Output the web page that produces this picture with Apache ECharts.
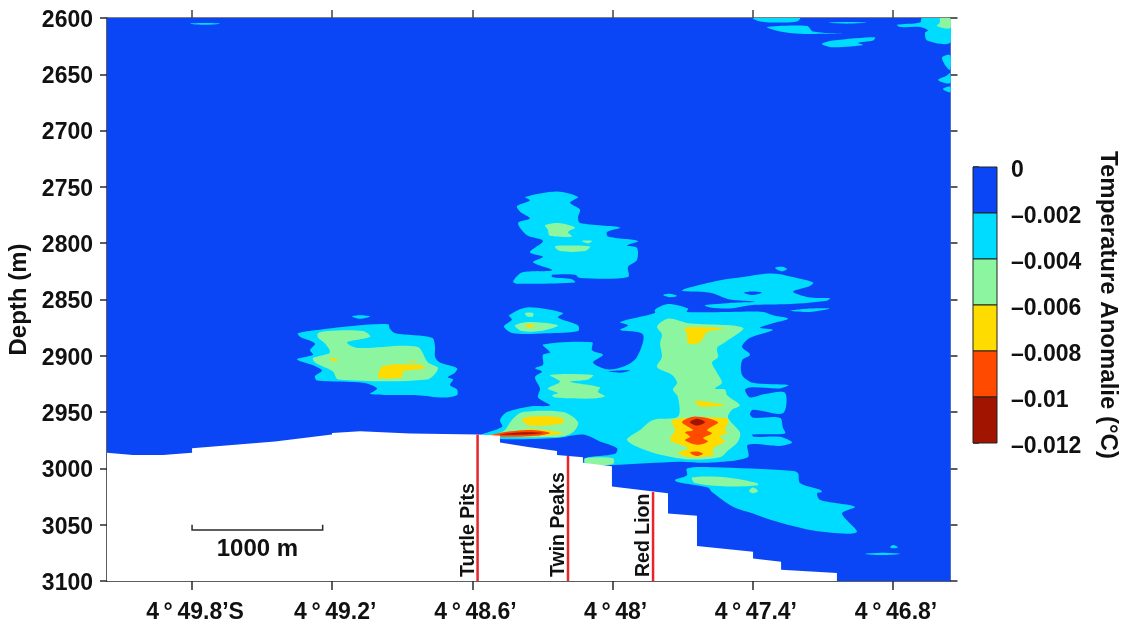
<!DOCTYPE html>
<html>
<head>
<meta charset="utf-8">
<style>html,body{margin:0;padding:0;background:#fff}#c{width:1128px;height:626px}</style>
<script src="https://cdn.jsdelivr.net/npm/echarts@6/dist/echarts.min.js"></script>
</head>
<body>
<div id="c"></div>
<script>
// ---- axes (longitude in arc-minutes past 4 deg S, depth in metres) ----
const lonMin = 46.554, lonMax = 50.164;
const lonTicks = [49.8, 49.2, 48.6, 48.0, 47.4, 46.8];
const lonLabels = ["4\u2009°\u200949.8’S", "4\u2009°\u200949.2’", "4\u2009°\u200948.6’", "4\u2009°\u200948’", "4\u2009°\u200947.4’", "4\u2009°\u200946.8’"];
const depthTicks = [2600, 2650, 2700, 2750, 2800, 2850, 2900, 2950, 3000, 3050, 3100];

// ---- colour scale ----
const scaleTicks = [0, -0.002, -0.004, -0.006, -0.008, -0.01, -0.012];
const scaleLabels = ["0", "–0.002", "–0.004", "–0.006", "–0.008", "–0.01", "–0.012"];
const scaleColors = ["#0a46f5", "#00dcff", "#8cf5a0", "#ffdc00", "#ff4a00", "#a01400"];

// ---- contour regions: lists of [longitude, depth] ----
const band0 = [[[46.554,2600],[50.164,2600],[50.164,3100],[46.554,3100]]];

const band1 = [
 [[47.399,2600],[47.198,2600],[47.211,2603],[47.296,2604],[47.369,2603]],
 [[47.339,2608],[47.168,2607],[47.142,2612],[47.014,2614],[47.082,2614],[47.198,2614],[47.284,2612]],
 [[47.078,2604],[46.997,2603.5],[46.911,2604],[46.997,2605]],
 [[47.104,2623],[47.057,2620],[46.877,2617],[46.886,2620],[46.950,2622],[46.928,2624],[47.057,2626]],
 [[46.783,2606],[46.684,2604],[46.676,2600],[46.556,2600],[46.556,2622],[46.654,2620],[46.663,2613],[46.650,2611],[46.684,2608],[46.770,2608]],
 [[46.590,2635],[46.556,2633],[46.556,2646],[46.577,2642]],
 [[46.607,2655],[46.569,2651],[46.556,2649],[46.556,2658]],
 [[46.586,2663],[46.556,2661],[46.556,2666]],
 [[49.809,2605],[49.745,2604.5],[49.680,2605],[49.745,2606]],
 [[48.375,2759],[48.238,2754],[48.148,2759],[48.182,2764],[48.140,2770],[48.148,2777],[48.140,2782],[47.968,2786],[48.024,2790],[48.020,2794],[47.891,2798],[47.938,2802],[47.896,2804],[47.896,2815],[47.934,2821],[47.934,2830],[48.140,2831],[48.161,2828],[48.259,2828],[48.259,2830],[48.174,2832],[48.161,2835],[48.409,2836],[48.426,2834],[48.388,2826],[48.259,2824],[48.341,2817],[48.298,2812],[48.354,2808],[48.298,2798],[48.366,2793],[48.405,2782],[48.354,2778],[48.396,2772],[48.409,2767],[48.354,2762]],
 [[49.347,2880],[49.265,2877],[49.094,2873],[48.961,2872],[48.953,2876],[48.931,2880],[48.773,2884],[48.760,2892],[48.760,2901],[48.739,2906],[48.666,2911],[48.675,2915],[48.705,2919],[48.683,2921],[48.696,2926],[48.666,2930],[48.666,2935],[48.726,2937],[48.837,2935],[49.038,2934],[49.008,2929],[49.068,2924],[49.265,2922],[49.274,2918],[49.244,2913],[49.287,2908],[49.351,2903],[49.282,2899],[49.295,2895],[49.274,2889],[49.338,2883]],
 [[49.115,2865],[49.081,2864],[49.038,2865],[49.081,2867]],
 [[48.465,2874],[48.431,2868],[48.443,2864],[48.366,2857],[48.212,2862],[48.234,2866],[48.148,2873],[48.148,2878],[48.281,2880],[48.426,2880]],
 [[48.298,2890],[48.088,2888],[48.088,2895],[48.041,2899],[48.084,2906],[48.024,2912],[47.947,2909],[47.896,2901],[47.870,2881],[47.968,2877],[47.934,2873],[47.968,2870],[47.819,2862],[47.819,2859],[47.763,2854],[47.677,2858],[47.682,2861],[47.498,2861],[47.356,2861],[47.314,2864],[47.249,2867],[47.314,2871],[47.369,2875],[47.314,2877],[47.412,2884],[47.446,2892],[47.412,2899],[47.446,2904],[47.446,2917],[47.399,2924],[47.249,2926],[47.284,2929],[47.399,2928],[47.433,2930],[47.412,2937],[47.348,2934],[47.262,2933],[47.271,2951],[47.399,2948],[47.412,2952],[47.399,2955],[47.284,2955],[47.271,2964],[47.262,2969],[47.403,2970],[47.395,2972],[47.284,2972],[47.232,2977],[47.284,2980],[47.421,2979],[47.421,2990],[47.596,2995],[47.712,2994],[48.003,2997],[48.118,2997],[48.118,2991],[47.990,2987],[47.981,2982],[48.054,2976],[48.127,2970],[48.238,2973],[48.482,2974],[48.568,2971],[48.473,2963],[48.482,2957],[48.452,2950],[48.354,2945],[48.268,2944],[48.319,2937],[48.311,2929],[48.332,2919],[48.302,2914],[48.332,2911],[48.298,2908],[48.298,2899],[48.268,2897]],
 [[47.703,2842],[47.540,2833],[47.442,2830],[47.314,2827],[47.211,2831],[47.142,2835],[47.155,2838],[47.228,2843],[47.164,2848],[47.070,2849],[47.082,2851],[47.241,2854],[47.412,2855],[47.498,2858],[47.583,2857],[47.605,2855],[47.498,2853],[47.391,2852],[47.498,2850],[47.583,2844]],
 [[47.305,2822],[47.275,2821],[47.254,2823],[47.275,2825]],
 [[47.241,2860],[47.155,2858],[47.070,2858],[47.155,2861]],
 [[47.784,2846],[47.754,2845],[47.724,2847],[47.754,2848]],
 [[47.733,3010],[47.682,3006],[47.682,3000],[47.570,2999],[47.241,3002],[47.207,3004],[47.198,3013],[47.112,3019],[47.104,3021],[47.125,3022],[47.112,3028],[46.963,3034],[47.018,3040],[46.954,3056],[46.997,3058],[47.147,3055],[47.318,3046],[47.399,3040],[47.485,3034],[47.575,3021],[47.592,3017],[47.724,3012]],
 [[46.813,3070],[46.800,3068],[46.779,3070],[46.800,3071]],
 [[46.920,3076],[46.843,3075],[46.770,3076],[46.847,3077]]
];
const band1Gaps = [
 [[48.020,2914],[47.977,2913],[47.926,2913],[47.968,2915]],
 [[47.438,2844],[47.403,2843],[47.361,2844],[47.403,2846]]
];
const band2 = [
 [[46.599,2600],[46.556,2600],[46.556,2609],[46.612,2607],[46.599,2604]],
 [[48.289,2784],[48.234,2782],[48.161,2786],[48.191,2790],[48.174,2794],[48.247,2794],[48.272,2793],[48.277,2788]],
 [[48.247,2803],[48.212,2802],[48.097,2803],[48.118,2807],[48.225,2807]],
 [[48.131,2798],[48.088,2798],[48.105,2800]],
 [[49.261,2880],[49.222,2878],[49.068,2878],[49.038,2883],[49.137,2888],[49.094,2893],[48.837,2892],[48.790,2906],[48.747,2911],[48.794,2921],[49.175,2921],[49.197,2914],[49.274,2906],[49.282,2902],[49.210,2897],[49.231,2889],[49.261,2884]],
 [[48.418,2873],[48.354,2870],[48.234,2873],[48.311,2878],[48.388,2878]],
 [[48.375,2862],[48.341,2862],[48.341,2865],[48.366,2865]],
 [[47.810,2874],[47.763,2867],[47.677,2871],[47.442,2875],[47.519,2888],[47.553,2893],[47.549,2901],[47.575,2906],[47.553,2915],[47.532,2924],[47.562,2929],[47.519,2930],[47.510,2935],[47.455,2944],[47.489,2948],[47.506,2955],[47.455,2968],[47.463,2976],[47.506,2984],[47.540,2990],[47.669,2992],[47.827,2986],[47.938,2975],[47.883,2966],[47.827,2957],[47.720,2954],[47.720,2937],[47.742,2930],[47.724,2924],[47.746,2917],[47.810,2910],[47.789,2901],[47.797,2889],[47.789,2881]],
 [[48.118,2991],[47.998,2991],[47.998,2996],[48.097,2997],[48.118,2995]],
 [[48.268,2917],[48.084,2917],[48.105,2921],[48.182,2923],[48.054,2928],[48.063,2932],[48.033,2936],[48.084,2938],[48.247,2937],[48.259,2935],[48.234,2933],[48.277,2929],[48.225,2923]],
 [[48.431,2957],[48.384,2950],[48.212,2950],[48.148,2959],[48.170,2968],[48.225,2972],[48.503,2971],[48.461,2966]],
 [[47.660,3008],[47.510,3008],[47.382,3013],[47.378,3015],[47.510,3016],[47.647,3013]],
 [[47.416,3020],[47.399,3017],[47.378,3020],[47.399,3022]]
];
const band3 = [
 [[48.983,2909],[48.824,2908],[48.803,2911],[48.897,2914],[48.901,2919],[48.996,2920],[49.004,2917]],
 [[49.210,2902],[49.175,2903],[49.197,2905]],
 [[48.876,2905],[48.837,2905],[48.859,2906]],
 [[48.375,2873],[48.354,2872],[48.332,2873],[48.354,2875]],
 [[48.388,2957],[48.354,2954],[48.217,2955],[48.212,2960],[48.354,2962]],
 [[48.538,2971],[48.409,2967],[48.354,2965],[48.217,2968],[48.234,2970],[48.384,2972]],
 [[47.690,2875],[47.519,2876],[47.596,2879],[47.626,2888],[47.677,2889],[47.682,2881]],
 [[47.647,2940],[47.519,2944],[47.626,2945]],
 [[47.746,2957],[47.506,2956],[47.519,2966],[47.506,2968],[47.540,2972],[47.519,2976],[47.570,2982],[47.570,2988],[47.669,2990],[47.720,2986],[47.677,2982],[47.754,2975],[47.733,2966]]
];
const band4 = [
 [[48.525,2971],[48.482,2968.5],[48.354,2966],[48.268,2968.5],[48.324,2971],[48.473,2972]],
 [[47.703,2959],[47.647,2954],[47.549,2959],[47.596,2966],[47.575,2969],[47.613,2973],[47.592,2976],[47.639,2979],[47.690,2975],[47.669,2972],[47.690,2968],[47.656,2966]],
 [[47.669,2986],[47.639,2985],[47.613,2987],[47.639,2989]]
];
const band5 = [
 [[48.482,2970],[48.384,2968],[48.298,2968.5],[48.384,2970]],
 [[47.669,2959],[47.639,2956],[47.605,2959],[47.639,2962]]
];

// ---- sea floor ----
const seafloor = [[[50.164,2986],[50.053,2988],[49.924,2988],[49.80,2986],[49.80,2982],[49.445,2976],[49.201,2970],[49.201,2968.5],[49.081,2967],[48.867,2969],[48.576,2970],[48.482,2971],[48.482,2977],[48.362,2981],[48.238,2984.5],[48.238,2988],[48.127,2990],[48.127,2995],[48.003,2998],[48.003,3016],[47.763,3022],[47.763,3040],[47.639,3042],[47.639,3069],[47.399,3074],[47.399,3080],[47.279,3083],[47.279,3090],[47.040,3093],[47.040,3100],[50.164,3100]]];

// ---- vent sites and scale bar ----
const ventNames = ["Turtle Pits", "Twin Peaks", "Red Lion"];
const ventLons = [48.578, 48.191, 47.827];
const ventTops = [2970, 2989, 3021];
const barEnds = [49.8, 49.241];
const barDepths = [3050, 3054.6];
const barText = "1000 m";
const barTextPos = [49.52, 3071.5];

const FONT = "Liberation Sans";
const INK = "#111";
const AXIS = "#2a2a2a";
const textBase = {fontFamily: FONT, fontWeight: "bold", fontSize: 23, color: INK};
const nameBase = {fontFamily: FONT, fontWeight: "bold", fontSize: 24, color: INK};

function regions(polys, color, smooth) {
  return {
    type: "custom", xAxisIndex: 0, yAxisIndex: 0, clip: true, silent: true,
    data: polys.map(p => p[0]),
    renderItem: (params, api) => ({
      type: "polygon",
      shape: {points: polys[params.dataIndex].map(c => api.coord(c)), smooth: smooth || 0},
      style: {fill: color}
    })
  };
}

const ventSeries = {
  type: "custom", xAxisIndex: 0, yAxisIndex: 0, silent: true, clip: false,
  data: ventLons.map((lon, i) => [lon, ventTops[i]]),
  renderItem: (params, api) => {
    const i = params.dataIndex;
    const a = api.coord([ventLons[i], ventTops[i]]);
    const b = api.coord([ventLons[i], 3100]);
    return {type: "group", children: [
      {type: "line", shape: {x1: a[0], y1: a[1], x2: b[0], y2: b[1]}, style: {stroke: "#e8262a", lineWidth: 2.5}},
      {type: "text", x: b[0] - 9, y: b[1] - 4, rotation: Math.PI / 2,
       style: {text: ventNames[i], fontFamily: FONT, fontWeight: "bold", fontSize: 19.5, fill: INK, align: "left", verticalAlign: "middle"}}
    ]};
  }
};

const barSeries = {
  type: "custom", xAxisIndex: 0, yAxisIndex: 0, silent: true, clip: false,
  data: [[barEnds[0], barDepths[1]]],
  renderItem: (params, api) => {
    const p0 = api.coord([barEnds[0], barDepths[0]]);
    const p1 = api.coord([barEnds[0], barDepths[1]]);
    const p2 = api.coord([barEnds[1], barDepths[1]]);
    const p3 = api.coord([barEnds[1], barDepths[0]]);
    const t = api.coord(barTextPos);
    return {type: "group", children: [
      {type: "polyline", shape: {points: [p0, p1, p2, p3]}, style: {stroke: AXIS, lineWidth: 1.5, fill: "none"}},
      {type: "text", x: t[0], y: t[1], style: {text: barText, fontFamily: FONT, fontWeight: "bold", fontSize: 24, fill: INK, align: "center", verticalAlign: "middle"}}
    ]};
  }
};

const scaleSeries = {
  type: "custom", xAxisIndex: 2, yAxisIndex: 2, silent: true, clip: false,
  data: scaleColors.map((c, i) => [0, scaleTicks[i]]),
  renderItem: (params, api) => {
    const i = params.dataIndex;
    const a = api.coord([0, scaleTicks[i]]);
    const b = api.coord([1, scaleTicks[i + 1]]);
    return {type: "rect", shape: {x: a[0], y: a[1], width: b[0] - a[0], height: b[1] - a[1]},
      style: {fill: scaleColors[i], stroke: "#222", lineWidth: 1}};
  }
};

const hiddenParts = {axisLabel: {show: false}, splitLine: {show: false}};
const chart = echarts.init(document.getElementById("c"), null, {renderer: "canvas"});
chart.setOption({
  animation: false,
  backgroundColor: "#fff",
  grid: [
    {left: 107, top: 18, width: 843.5, height: 563, outerBoundsMode: "none"},
    {left: 973, top: 167, width: 24, height: 276, outerBoundsMode: "none"}
  ],
  xAxis: [
    {type: "value", gridIndex: 0, inverse: true, min: lonMin, max: lonMax, position: "bottom",
     axisLine: {show: true, lineStyle: {color: AXIS, width: 1.5}},
     axisTick: {show: true, length: 9, customValues: lonTicks, lineStyle: {color: AXIS, width: 1.5}},
     axisLabel: {show: true, customValues: lonTicks, margin: 20, ...textBase, padding: [0, 0, 0, 6], showMinLabel: true, showMaxLabel: true,
       formatter: v => lonLabels[lonTicks.findIndex(t => Math.abs(t - v) < 1e-6)] || ""},
     splitLine: {show: false}},
    {type: "value", gridIndex: 0, inverse: true, min: lonMin, max: lonMax, position: "top",
     axisLine: {show: true, lineStyle: {color: "#555", width: 1.5}},
     axisTick: {show: true, length: 8, customValues: lonTicks, lineStyle: {color: "#444", width: 1.5}},
     ...hiddenParts},
    {type: "value", gridIndex: 1, min: 0, max: 1, show: false}
  ],
  yAxis: [
    {type: "value", gridIndex: 0, inverse: true, min: 2600, max: 3100, interval: 50, position: "left",
     name: "Depth (m)", nameLocation: "middle", nameGap: 71, nameRotate: 90, nameTextStyle: {...nameBase},
     axisLine: {show: true, lineStyle: {color: AXIS, width: 1.5}},
     axisTick: {show: true, length: 7, customValues: depthTicks, lineStyle: {color: AXIS, width: 1.5}},
     axisLabel: {show: true, customValues: depthTicks, margin: 14, ...textBase, verticalAlign: "top", lineHeight: 5, formatter: v => String(v)},
     splitLine: {show: false}},
    {type: "value", gridIndex: 0, inverse: true, min: 2600, max: 3100, interval: 50, position: "right",
     axisLine: {show: true, lineStyle: {color: "#999", width: 1}},
     axisTick: {show: true, length: 7, customValues: depthTicks, lineStyle: {color: AXIS, width: 1.5}},
     ...hiddenParts},
    {type: "value", gridIndex: 1, min: -0.012, max: 0, interval: 0.002, position: "right",
     name: "Temperature Anomalie (°C)", nameLocation: "middle", nameGap: 99, nameRotate: -90, nameTextStyle: {...nameBase},
     axisLine: {show: false},
     axisTick: {show: true, length: 6, customValues: scaleTicks, lineStyle: {color: AXIS, width: 1.5}},
     axisLabel: {show: true, customValues: scaleTicks, margin: 14, ...textBase, verticalAlign: "top", lineHeight: 7, showMinLabel: true, showMaxLabel: true,
       formatter: v => scaleLabels[scaleTicks.findIndex(t => Math.abs(t - v) < 1e-6)] || ""},
     splitLine: {show: false}}
  ],
  series: [
    regions(band0, scaleColors[0]),
    regions(band1, scaleColors[1], 0.3),
    regions(band1Gaps, scaleColors[0], 0.3),
    regions(band2, scaleColors[2], 0.3),
    regions(band3, scaleColors[3], 0.3),
    regions(band4, scaleColors[4], 0.3),
    regions(band5, scaleColors[5], 0.3),
    regions(seafloor, "#ffffff"),
    ventSeries,
    barSeries,
    scaleSeries
  ]
});
</script>
</body>
</html>
